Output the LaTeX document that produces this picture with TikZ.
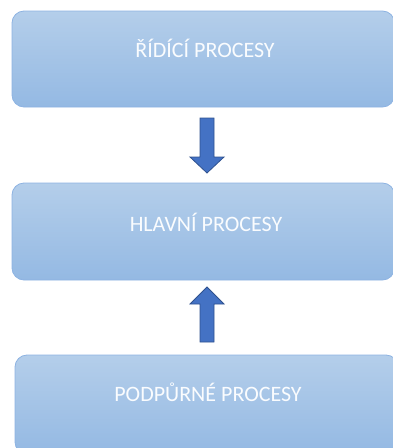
\documentclass[tikz,border=0pt]{standalone}
\usepackage{fontspec}
\setmainfont{Carlito}
\usepackage{tikz}
\usetikzlibrary{calc}

\definecolor{boxtop}{HTML}{B4CEEA}
\definecolor{boxbot}{HTML}{94B9E3}
\definecolor{boxline}{HTML}{8DB3E2}
\definecolor{arrfill}{HTML}{4472C4}
\definecolor{arrline}{HTML}{2F528F}

\begin{document}
\begin{tikzpicture}[x=1pt,y=-1pt,
  box/.style={draw=boxline,line width=0.8pt,rounded corners=12pt,top color=boxtop,bottom color=boxbot},
  boxtext/.style={anchor=base,text=white!94!boxtop,font=\fontsize{22}{26}\selectfont,inner sep=0pt},
  blockarrow/.style={fill=arrfill,draw=arrline,line width=0.8pt,line join=miter}]
\useasboundingbox (0,0) rectangle (393,448);
\draw[box] (12,11) rectangle (394.5,107);
\draw[box] (12,183) rectangle (394.5,280);
\draw[box] (15,355) rectangle (398,454);
\coordinate (ridici) at (205,57); \coordinate (hlavni) at (206,231); \coordinate (podpurne) at (208,401);
\node[boxtext] (t1) at (ridici) {ŘÍDÍCÍ PROCESY};
\node[boxtext] (t2) at (hlavni) {HLAVNÍ PROCESY};
\node[boxtext] (t3) at (podpurne) {PODPŮRNÉ PROCESY};
% arrows between the boxes
\draw[blockarrow] (200,118) -- (214,118) -- (214,157) -- (224,157) -- (207,173) -- (190,157) -- (200,157) -- cycle;
\draw[blockarrow] (200,342) -- (214,342) -- (214,304) -- (224,304) -- (207,287) -- (190,304) -- (200,304) -- cycle;
\end{tikzpicture}
\end{document}
